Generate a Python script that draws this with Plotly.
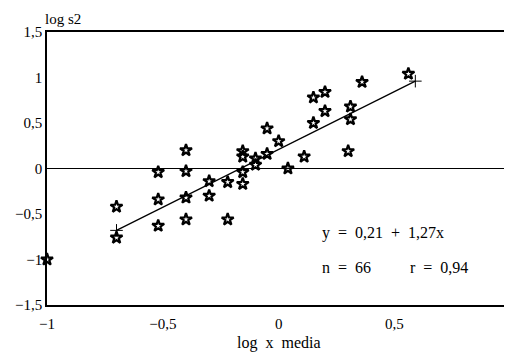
import plotly.graph_objects as go

# Observed points (log x media, log s2)
log_x = [-1.0, -0.70, -0.70, -0.52, -0.52, -0.52, -0.40, -0.40, -0.40, -0.40,
         -0.30, -0.30, -0.22, -0.22, -0.155, -0.155, -0.155, -0.155, -0.10, -0.10,
         -0.05, -0.05, 0.0, 0.04, 0.11, 0.15, 0.15, 0.20, 0.20, 0.30,
         0.31, 0.31, 0.36, 0.56]
log_s2 = [-1.0, -0.42, -0.76, -0.04, -0.34, -0.63, 0.20, -0.03, -0.32, -0.56,
          -0.14, -0.30, -0.15, -0.56, 0.19, 0.13, -0.04, -0.17, 0.11, 0.04,
          0.44, 0.16, 0.30, 0.0, 0.13, 0.78, 0.50, 0.84, 0.63, 0.19,
          0.68, 0.54, 0.95, 1.04]

# Regression line endpoints
fit_x = [-0.70, 0.59]
fit_y = [-0.68, 0.96]

x_ticks = [-1, -0.5, 0, 0.5]
y_ticks = [-1.5, -1, -0.5, 0, 0.5, 1, 1.5]

serif = "Liberation Serif"
NB = "&nbsp;"
S2 = NB * 2

fig = go.Figure()
fig.add_trace(go.Scatter(
    x=fit_x, y=fit_y, mode="lines+markers",
    line=dict(color="black", width=1.3),
    marker=dict(symbol="cross-thin", size=9, line=dict(color="black", width=1)),
    showlegend=False, hoverinfo="skip"))
fig.add_trace(go.Scatter(
    x=log_x, y=log_s2, mode="markers",
    marker=dict(symbol="star-open", size=9, color="black",
                line=dict(color="black", width=2.2)),
    showlegend=False, cliponaxis=False))

fig.update_layout(
    width=504, height=350,
    margin=dict(l=39, r=2, t=24, b=53),
    paper_bgcolor="white", plot_bgcolor="white",
    separators=", ",
    font=dict(family=serif, size=15, color="black"),
    xaxis=dict(range=[-1, 0.99], tickvals=x_ticks, showgrid=False,
               zeroline=False, showline=True, mirror=True,
               linecolor="black", linewidth=1.5, ticks="",
               ticklabelstandoff=4,
               tickfont=dict(family=serif, size=15, color="black")),
    yaxis=dict(range=[-1.5, 1.5], tickvals=y_ticks, showgrid=False,
               zeroline=True, zerolinecolor="black", zerolinewidth=1.2,
               showline=True, mirror=True,
               linecolor="black", linewidth=1.5, ticks="",
               tickfont=dict(family=serif, size=15, color="black")),
    annotations=[
        dict(text="log" + NB + "s2", xref="paper", yref="paper", x=-0.008, y=1.085,
             xanchor="left", yanchor="top", showarrow=False,
             font=dict(family=serif, size=15, color="black")),
        dict(text="log" + S2 + "x" + S2 + "media", xref="paper", yref="paper",
             x=0.503, y=-0.139, xanchor="center", yanchor="middle", showarrow=False,
             font=dict(family=serif, size=16, color="black")),
        dict(text="y" + S2 + "=" + S2 + "0,21" + S2 + "+" + S2 + "1,27x",
             xref="x", yref="y", x=0.18, y=-0.714,
             xanchor="left", yanchor="middle", showarrow=False,
             font=dict(family=serif, size=16, color="black")),
        dict(text="n" + S2 + "=" + S2 + "66", xref="x", yref="y", x=0.18, y=-1.088,
             xanchor="left", yanchor="middle", showarrow=False,
             font=dict(family=serif, size=16, color="black")),
        dict(text="r" + S2 + "=" + S2 + "0,94", xref="x", yref="y", x=0.56, y=-1.088,
             xanchor="left", yanchor="middle", showarrow=False,
             font=dict(family=serif, size=16, color="black")),
    ],
)

fig.write_html("out.html")
